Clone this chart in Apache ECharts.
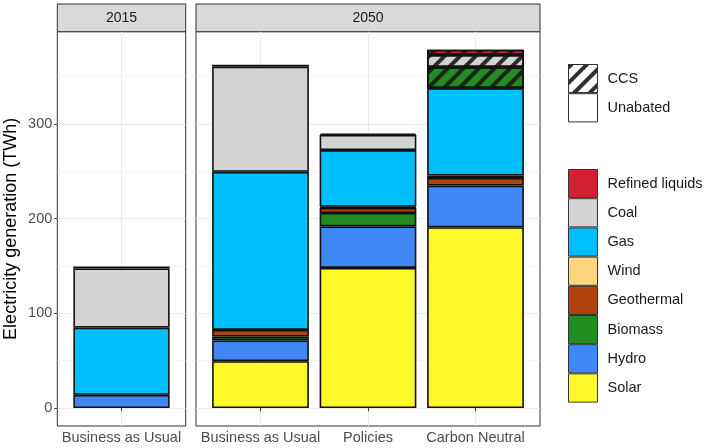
<!DOCTYPE html>
<html>
<head>
<meta charset="utf-8">
<script src="https://cdn.jsdelivr.net/npm/echarts@6/dist/echarts.min.js"></script>
<style>
html, body { margin: 0; padding: 0; background: #fff; }
#chart { width: 706px; height: 448px; }
</style>
</head>
<body>
<div id="chart"></div>
<script>
var panels = ['2015', '2050'];
var cats2015 = ['Business as Usual'];
var cats2050 = ['Business as Usual', 'Policies', 'Carbon Neutral'];
var fuels = ['Solar', 'Hydro', 'Biomass', 'Geothermal', 'Wind', 'Gas', 'Coal', 'Refined liquids'];
var fuelColors = ['#FFF92A', '#3F87F5', '#228B22', '#B1440E', '#FFD580', '#00BFFF', '#D3D3D3', '#D2202F'];

// unabated generation, TWh: [2015 BAU, 2050 BAU, 2050 Policies, 2050 Carbon Neutral]
var solar = [0, 49.5, 148, 191];
var hydro = [14, 22, 44, 44];
var biomass = [0, 4, 14, 0];
var geothermal = [0, 7, 5.5, 8];
var wind = [0, 0, 1, 2.5];
var gas = [71, 167, 60, 92.5];
var coal = [62.5, 111, 16, 0];
var refined = [2, 2, 1.5, 0];
// generation with CCS, TWh
var biomassCCS = [0, 0, 0, 22];
var coalCCS = [0, 0, 0, 13];
var refinedCCS = [0, 0, 0, 5.5];

var yTicks = [0, 100, 200, 300];
var yMinor = [50, 150, 250, 350];
var legendFuels = ['Refined liquids', 'Coal', 'Gas', 'Wind', 'Geothermal', 'Biomass', 'Hydro', 'Solar'];

var unabated = [solar, hydro, biomass, geothermal, wind, gas, coal, refined];
var ccs = { 'Biomass': biomassCCS, 'Coal': coalCCS, 'Refined liquids': refinedCCS };

var font = 'Liberation Sans, Arial, sans-serif';
var yMin = -18.93, yMax = 397.5;
var plotTop = 31.7, plotHeight = 394.3;
// panel boxes (ggplot pads discrete axes by 0.6 of a bar slot on each side)
var p1 = { left: 57.3, width: 128.4, n: 1 };
var p2 = { left: 196, width: 344, n: 3 };

function barGrid(p) {
    var unit = p.width / (p.n + 0.2);
    return { left: p.left + 0.1 * unit, width: unit * p.n, top: plotTop, height: plotHeight, show: false };
}
function panelGrid(p) {
    return { left: p.left, width: p.width, top: plotTop, height: plotHeight, show: true,
             borderColor: '#333', borderWidth: 1, backgroundColor: '#fff' };
}

var hatch = {
    symbol: 'rect', symbolSize: 1,
    dashArrayX: [1, 0], dashArrayY: [4, 7],
    rotation: -Math.PI / 4,
    color: 'rgba(25,25,25,0.9)'
};

function panelY(grid, main) {
    return [{
        type: 'value', gridIndex: grid, min: yMin, max: yMax,
        name: main ? 'Electricity generation (TWh)' : '',
        nameLocation: 'middle', nameGap: 37,
        nameTextStyle: { fontSize: 18, color: '#000', fontFamily: font },
        axisLine: { show: false },
        axisTick: { show: main, customValues: yTicks, length: 3, lineStyle: { color: '#333' } },
        axisLabel: { show: main, customValues: yTicks, margin: 5, fontSize: 14.5, color: '#4d4d4d', fontFamily: font },
        splitLine: { show: true, lineStyle: { color: '#EBEBEB', width: 1.1 } }
    }, {
        type: 'value', gridIndex: grid, min: yMin, max: yMax,
        axisLine: { show: false },
        axisTick: { show: false, customValues: yMinor },
        axisLabel: { show: false, customValues: yMinor },
        splitLine: { show: true, lineStyle: { color: '#F2F2F2', width: 0.6 } }
    }];
}
function barY(grid) {
    return { type: 'value', gridIndex: grid, min: yMin, max: yMax, show: false, splitLine: { show: false } };
}

function panelX(grid, cats) {
    var vals = cats.map(function (c, i) { return i + 1; });
    return {
        type: 'value', gridIndex: grid, min: 0.4, max: cats.length + 0.6,
        axisLine: { show: false },
        axisTick: { customValues: vals, length: 3, lineStyle: { color: '#333' } },
        axisLabel: {
            customValues: vals, margin: 4, fontSize: 14.5, color: '#4d4d4d', fontFamily: font,
            formatter: function (v) { return cats[Math.round(v) - 1]; }
        },
        splitLine: { show: true, lineStyle: { color: '#EBEBEB', width: 1.1 } }
    };
}
function barX(grid, cats) {
    return { type: 'category', gridIndex: grid, data: cats, show: false };
}

function vals(arr, from, to) {
    return arr.slice(from, to + 1).map(function (v) { return v > 0 ? v : '-'; });
}

var barStyle = { borderColor: '#111', borderWidth: 1.6 };
var series = [];
fuels.forEach(function (f, i) {
    series.push({
        name: f, type: 'bar', stack: 'p1', xAxisIndex: 2, yAxisIndex: 4, barWidth: '90%',
        itemStyle: Object.assign({ color: fuelColors[i] }, barStyle),
        data: vals(unabated[i], 0, 0)
    });
    series.push({
        name: f, type: 'bar', stack: 'p2', xAxisIndex: 3, yAxisIndex: 5, barWidth: '90%',
        itemStyle: Object.assign({ color: fuelColors[i] }, barStyle),
        data: vals(unabated[i], 1, 3)
    });
});
fuels.forEach(function (f, i) {
    if (!ccs[f]) return;
    series.push({
        name: f, type: 'bar', stack: 'p2', xAxisIndex: 3, yAxisIndex: 5, barWidth: '90%',
        itemStyle: Object.assign({ color: fuelColors[i], decal: hatch }, barStyle),
        data: vals(ccs[f], 1, 3)
    });
});
series.push({
    name: 'CCS', type: 'bar', stack: 'p2', xAxisIndex: 3, yAxisIndex: 5, barWidth: '90%',
    itemStyle: Object.assign({ color: '#fff', decal: hatch }, barStyle), data: ['-', '-', '-']
});
series.push({
    name: 'Unabated', type: 'bar', stack: 'p2', xAxisIndex: 3, yAxisIndex: 5, barWidth: '90%',
    itemStyle: Object.assign({ color: '#fff' }, barStyle), data: ['-', '-', '-']
});

function strip(p, label) {
    return [{
        type: 'rect', silent: true,
        shape: { x: p.left, y: 4, width: p.width, height: plotTop - 4 },
        style: { fill: '#D9D9D9', stroke: '#333', lineWidth: 1 }
    }, {
        type: 'text', silent: true,
        x: p.left + p.width / 2, y: (4 + plotTop) / 2,
        style: { text: label, fill: '#1a1a1a', font: '14px ' + font, align: 'center', verticalAlign: 'middle' }
    }];
}

var legendBase = {
    orient: 'vertical', left: 568, padding: 0, itemWidth: 29, itemHeight: 28.2, itemGap: 0,
    selectedMode: false, icon: 'rect',
    itemStyle: { borderColor: '#333', borderWidth: 1 },
    textStyle: { fontSize: 14.5, color: '#1a1a1a', fontFamily: font, padding: [0, 0, 0, 5] }
};

var chart = echarts.init(document.getElementById('chart'));
chart.setOption({
    animation: false,
    textStyle: { fontFamily: font },
    grid: [panelGrid(p1), panelGrid(p2), barGrid(p1), barGrid(p2)],
    xAxis: [panelX(0, cats2015), panelX(1, cats2050), barX(2, cats2015), barX(3, cats2050)],
    yAxis: panelY(0, true).concat(panelY(1, false), [barY(2), barY(3)]),
    legend: [
        Object.assign({ top: 64, data: ['CCS', 'Unabated'] }, legendBase),
        Object.assign({ top: 169, data: legendFuels }, legendBase)
    ],
    graphic: strip(p1, panels[0]).concat(strip(p2, panels[1])),
    series: series
});
</script>
</body>
</html>
